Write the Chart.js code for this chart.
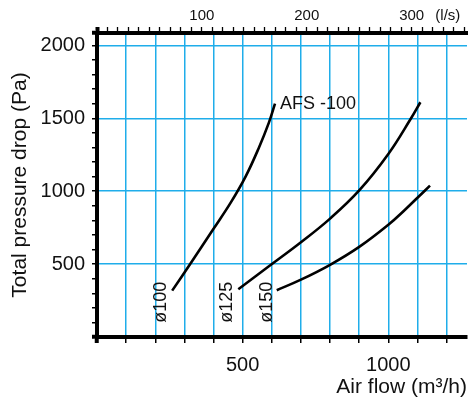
<!DOCTYPE html>
<html><head><meta charset="utf-8">
<script src="https://cdn.jsdelivr.net/npm/chart.js@4"></script>
<style>html,body{margin:0;padding:0;background:#fff}</style>
</head><body>
<canvas id="c" width="470" height="403"></canvas>
<script>
// Data (air flow m³/h, pressure drop Pa)
const flow100 = [258, 317, 400, 460, 510, 555, 590, 611];
const drop100 = [318, 492, 742, 925, 1100, 1295, 1470, 1600];
const flow125 = [485, 590, 700, 800, 900, 1000, 1078, 1110];
const drop125 = [328, 485, 650, 812, 1005, 1255, 1500, 1610];
const flow150 = [617, 700, 800, 900, 1000, 1060, 1100, 1143];
const drop150 = [321, 393, 495, 618, 770, 878, 955, 1038];

const bottomTickLabels = [500, 1000];
const leftTickLabels = [500, 1000, 1500, 2000];
const topTickLabels = [100, 200, 300];
const curveNames = ['ø100', 'ø125', 'ø150'];
const productLabel = 'AFS -100';
const topUnit = '(l/s)';
const xTitle = 'Air flow (m³/h)';
const yTitle = 'Total pressure drop (Pa)';

const X_MAX = 1270, Y_MAX = 2085;
const FONT = '"Liberation Sans", Arial, Helvetica, sans-serif';
const BLUE = '#1fadea';
const INK = '#111';

function pts(xs, ys){ return xs.map((v,i)=>({x:v, y:ys[i]})); }
function ds(xs, ys){
  return {data: pts(xs, ys), borderColor: '#000', borderWidth: 2.6, pointRadius: 0,
          tension: 0.4, fill: false};
}

const labelPlugin = {
  id: 'curveLabels',
  afterDraw(chart){
    const {ctx, scales} = chart;
    const x = scales.x, y = scales.y, x2 = scales.x2;
    ctx.save();
    ctx.fillStyle = INK;
    ctx.font = '18px ' + FONT;
    ctx.textBaseline = 'middle';
    ctx.textAlign = 'left';
    ctx.fillText(productLabel, x.getPixelForValue(628), y.getPixelForValue(1598));
    const anchors = [220, 448, 582];
    curveNames.forEach((t, i) => {
      ctx.save();
      ctx.translate(x.getPixelForValue(anchors[i]), y.getPixelForValue(238));
      ctx.rotate(-Math.PI/2);
      ctx.textAlign = 'center';
      ctx.fillText(t, 0, 0);
      ctx.restore();
    });
    ctx.font = '15px ' + FONT;
    ctx.textAlign = 'center';
    ctx.fillText(topUnit, x2.getPixelForValue(334.5), 16);
    ctx.restore();
  }
};

const edgeTick = (c, edges, w) => (c.tick && edges.includes(c.tick.value)) ? 4 : w;

new Chart(document.getElementById('c'), {
  type: 'line',
  data: { datasets: [ds(flow100, drop100), ds(flow125, drop125), ds(flow150, drop150)] },
  options: {
    responsive: false,
    animation: false,
    devicePixelRatio: 1,
    layout: { padding: { left: 0, right: 3, top: 0, bottom: 0 } },
    plugins: { legend: { display: false }, tooltip: { enabled: false } },
    scales: {
      x: {
        type: 'linear', position: 'bottom', min: 0, max: X_MAX,
        afterFit(s){ s.height = 66; },
        border: { display: true, color: '#000', width: 4 },
        grid: {
          color: c => (c.tick && c.tick.value > 0) ? BLUE : 'rgba(0,0,0,0)',
          lineWidth: 1.5, tickColor: '#000', tickWidth: c => edgeTick(c, [0], 1.5), tickLength: 6
        },
        ticks: {
          stepSize: 100, includeBounds: false, autoSkip: false, maxRotation: 0,
          padding: 10, color: INK, font: { family: FONT, size: 20 },
          callback: v => bottomTickLabels.includes(v) ? String(v) : ''
        },
        title: { display: true, text: xTitle, align: 'end', color: INK,
                 font: { family: FONT, size: 21 }, padding: { top: 0, bottom: 3 } }
      },
      x2: {
        type: 'linear', position: 'top', min: 0, max: X_MAX / 3.6,
        afterFit(s){ s.height = 33; },
        border: { display: true, color: '#000', width: 4 },
        grid: { drawOnChartArea: false, color: '#000', tickColor: '#000',
                tickWidth: c => edgeTick(c, [0], 1.3), tickLength: 6 },
        ticks: {
          stepSize: 10, includeBounds: false, autoSkip: false, maxRotation: 0,
          padding: 2, color: INK, font: { family: FONT, size: 15 },
          callback: v => topTickLabels.includes(v) ? String(v) : ''
        }
      },
      y: {
        type: 'linear', position: 'left', min: 0, max: Y_MAX,
        afterFit(s){ s.width = 97; },
        afterBuildTicks(s){ s.ticks.push({ value: Y_MAX }); },
        border: { display: true, color: '#000', width: 4 },
        grid: {
          color: c => (c.tick && c.tick.value > 0 && c.tick.value % 500 === 0) ? BLUE : 'rgba(0,0,0,0)',
          lineWidth: 1.5, tickColor: '#000', tickWidth: c => edgeTick(c, [0, Y_MAX], 1.5), tickLength: 5
        },
        ticks: {
          stepSize: 100, includeBounds: false, autoSkip: false,
          padding: 7, color: INK, font: { family: FONT, size: 20 },
          callback: v => leftTickLabels.includes(v) ? String(v) : ''
        },
        title: { display: true, text: yTitle, color: INK,
                 font: { family: FONT, size: 21 }, padding: { top: 8, bottom: 0 } }
      }
    }
  },
  plugins: [labelPlugin]
});
</script>
</body></html>
